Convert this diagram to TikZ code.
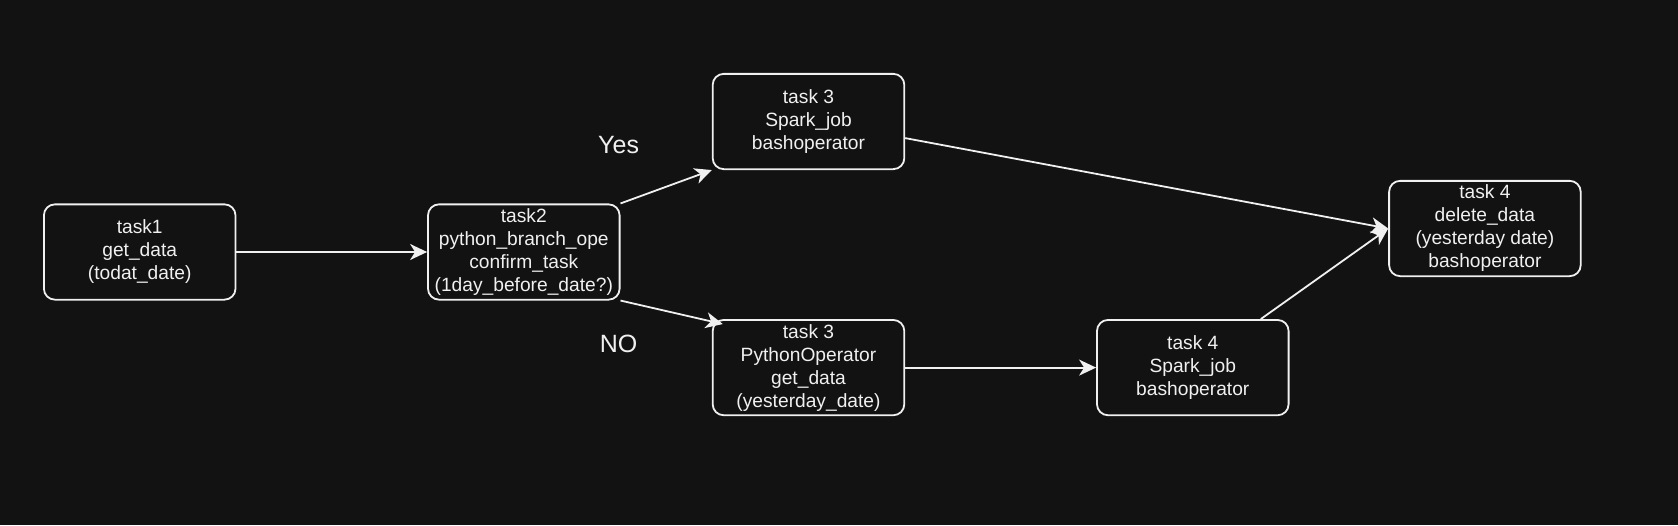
\documentclass[tikz,border=0pt]{standalone}
\usepackage{fontspec}
\setmainfont{Liberation Sans}
\usetikzlibrary{arrows.meta,calc}
\definecolor{bgc}{HTML}{121212}
\definecolor{fgc}{HTML}{F0F0F0}
\begin{document}
\begin{tikzpicture}[x=1pt,y=-1pt,
  taskbox/.style={draw=fgc,fill=bgc,line width=1.8pt,rounded corners=11pt,
    minimum width=191.6pt,minimum height=95.3pt,inner sep=0pt,align=center,
    text=fgc,font=\fontsize{19.2}{23}\selectfont},
  conn/.style={draw=fgc,line width=1.8pt,-{Stealth[length=17pt,width=16pt,inset=5pt]}},
  lbl/.style={text=fgc,inner sep=0pt,font=\fontsize{25}{30}\selectfont}]
\fill[bgc] (0,0) rectangle (1678,525);
\useasboundingbox (0,0) rectangle (1678,525);
\node[taskbox] (t1) at (139.7,252) {task1\\get\_data\\(todat\_date)};
\node[taskbox] (t2) at (523.8,252) {task2\\python\_branch\_ope\\confirm\_task\\(1day\_before\_date?)};
\node[taskbox] (t3a) at (808.5,121.5) {task 3\\Spark\_job\\bashoperator};
\node[taskbox] (t3b) at (808.5,367.6) {task 3\\PythonOperator\\get\_data\\(yesterday\_date)};
\node[taskbox] (t4b) at (1192.8,367.6) {task 4\\Spark\_job\\bashoperator};
\node[taskbox] (t4r) at (1484.9,228.5) {task 4\\delete\_data\\(yesterday date)\\bashoperator};
\coordinate (t3bin) at ($(t3b.north west)+(11,5)$);
\coordinate (t3aout) at ($(t3a.east)+(0,16.6)$);
\coordinate (t4bout) at ($(t4b.north)+(68,0)$);
\draw[conn] (t1.east) -- (t2.west);
\draw[conn] (t2.north east) -- (t3a.south west);
\draw[conn] (t2.south east) -- (t3bin);
\draw[conn] (t3aout) -- (t4r.west);
\draw[conn] (t3b.east) -- (t4b.west);
\draw[conn] (t4bout) -- (t4r.west);
\node[lbl] (yes) at (618.6,145.5) {Yes};
\node[lbl] (no) at (618.6,343.5) {NO};
\end{tikzpicture}
\end{document}
